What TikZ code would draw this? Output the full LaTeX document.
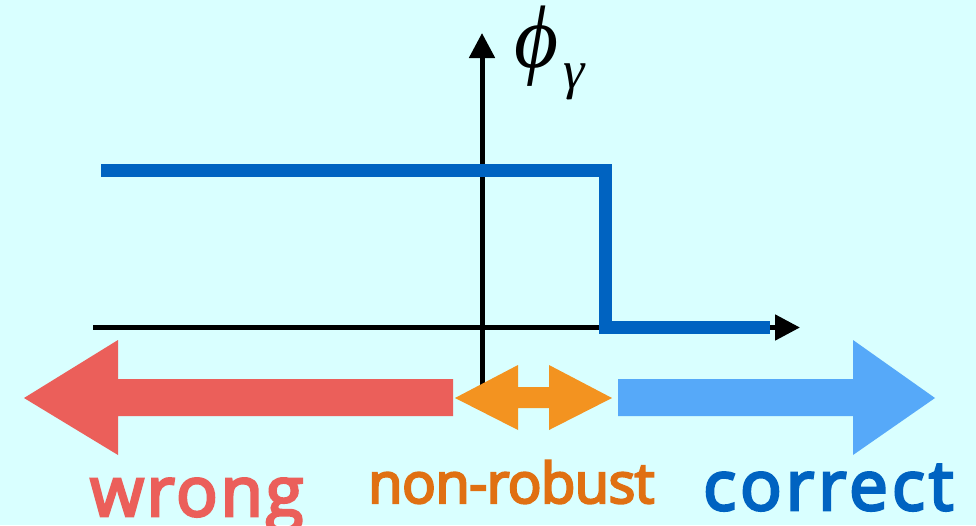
\documentclass[tikz,border=0pt]{standalone}
\usepackage{fontspec}
\setmainfont{Open Sans}[FakeBold=4]
\newfontfamily\tms{Liberation Serif}
\usetikzlibrary{arrows.meta}
\definecolor{bgc}{HTML}{D9FFFF}
\definecolor{redarr}{HTML}{EB5F5A}
\definecolor{orarr}{HTML}{F39320}
\definecolor{lbarr}{HTML}{56A9F9}
\definecolor{dblue}{HTML}{0063C1}
\definecolor{ortext}{HTML}{E07012}
\tikzset{
  axis/.style={line width=5pt,-{Triangle[length=25pt,width=25pt]}},
  stepline/.style={line width=13pt,dblue,line join=miter,line cap=butt},
  lbl/.style={anchor=base west,inner sep=0pt}
}
\begin{document}
\begin{tikzpicture}[x=1pt,y=-1pt]
\fill[bgc] (0,0) rectangle (976,525);
\useasboundingbox (0,0) rectangle (976,525);
% axes
\coordinate (xs) at (93,327.5);
\coordinate (xe) at (800,327.5);
\coordinate (ys) at (482,385);
\coordinate (ye) at (482,33);
\draw[axis] (xs) -- (xe);
\draw[axis] (ys) -- (ye);
\node[anchor=base west,inner sep=0pt,font=\tms\itshape\fontsize{71}{71}\selectfont] (phi) at (514,67) {\scalebox{1.2}[1.25]{ϕ}\hspace{5pt}\raisebox{-21pt}{\fontsize{54}{54}\selectfont γ}};
% step function
\coordinate (s1) at (101,170);
\coordinate (s2) at (605.5,170);
\coordinate (s3) at (605.5,327);
\coordinate (s4) at (770,327);
\draw[stepline] (s1) -- (s2) -- (s3) -- (s4);
% red arrow (left)
\fill[redarr] (453,379) -- (118,379) -- (118,340) -- (24,398) -- (118,455) -- (118,416) -- (453,416) -- cycle;
% orange double arrow
\fill[orarr] (455,398) -- (518,365) -- (518,387) -- (549,387) -- (549,365) -- (612,398) -- (549,430) -- (549,408) -- (518,408) -- (518,430) -- cycle;
% light blue arrow (right)
\fill[lbarr] (618,379) -- (853,379) -- (853,340) -- (935,398) -- (853,455) -- (853,416) -- (618,416) -- cycle;
% labels
\node[lbl,text=redarr,font=\addfontfeatures{LetterSpace=4}\fontsize{69}{69}\selectfont] (wrong) at (90,516) {wrong};
\node[lbl,text=ortext,font=\addfontfeatures{LetterSpace=-1}\fontsize{56}{56}\selectfont] (nonrob) at (368,503) {non-robust};
\node[lbl,text=dblue,font=\addfontfeatures{LetterSpace=6}\fontsize{69}{69}\selectfont] (correct) at (703,510) {correct};
\end{tikzpicture}
\end{document}
